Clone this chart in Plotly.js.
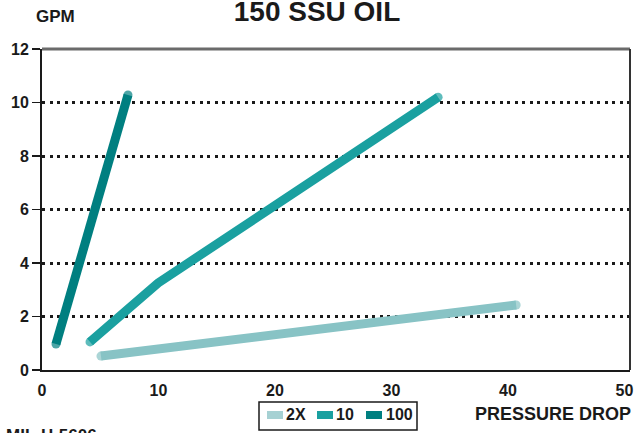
<!DOCTYPE html>
<html>
<head>
<meta charset="utf-8">
<script src="https://cdn.plot.ly/plotly-3.0.1.min.js"></script>
<style>html,body{margin:0;padding:0;background:#fff;}#chart{width:634px;height:433px;}</style>
</head>
<body>
<div id="chart"></div>
<script>
// Data
const seriesNames = ["2X", "10", "100"];
const x2X = [5.06, 40.7];
const y2X = [0.52, 2.43];
const x10 = [4.12, 9.96, 34.0];
const y10 = [1.05, 3.25, 10.2];
const x100 = [1.2, 7.38];
const y100 = [0.97, 10.28];
const colors = ["#88c3c5", "#1aa0a0", "#007f80"];
const legendColors = ["#a6d1d3", "#1aa0a0", "#007f80"];
const xTicks = [0, 10, 20, 30, 40, 50];
const yTicks = [0, 2, 4, 6, 8, 10, 12];

const FONT = "Liberation Sans, Arial, sans-serif";
const INK = "#1a1a1a";
const LW = 9;
const W = 634, H = 433, ML = 42, MR = 4, MT = 49, MB = 63;
const PW = W - ML - MR, PH = H - MT - MB;
const px = x => (x - ML) / PW;          // pixel -> paper x
const py = y => (H - MB - y) / PH;      // pixel -> paper y

function endSizes(n) { return Array.from({length: n}, (_, i) => (i === 0 || i === n - 1) ? LW : 0); }

const xs = [x2X, x10, x100];
const ys = [y2X, y10, y100];
const traces = [];
for (let i = 0; i < 3; i++) {
  traces.push({
    type: "scatter", mode: "lines+markers", name: seriesNames[i],
    x: xs[i], y: ys[i],
    line: {color: colors[i], width: LW},
    marker: {color: colors[i], size: endSizes(xs[i].length), line: {width: 0}},
    showlegend: false, hoverinfo: "skip"
  });
}

// Hand-built legend (boxed, small swatches)
const shapes = [
  {type: "line", xref: "paper", yref: "paper", x0: 0, x1: 1, y0: 1, y1: 1,
   line: {color: "#6b6b6b", width: 3}, layer: "above"},
  {type: "line", xref: "paper", yref: "paper", x0: 1, x1: 1, y0: 0, y1: 1,
   line: {color: "#333", width: 2}, layer: "above"},
  {type: "rect", xref: "paper", yref: "paper", x0: px(259), x1: px(417), y0: py(402), y1: py(430),
   line: {color: INK, width: 1.5}, fillcolor: "rgba(0,0,0,0)"}
];
const swatchX = [267, 317, 366];
const textX = [284, 334, 384];
const annotations = [
  {text: "<b>GPM</b>", xref: "paper", yref: "paper", x: px(34), y: py(16), xanchor: "left", yanchor: "middle",
   showarrow: false, font: {family: FONT, size: 17, color: INK}},
  {text: "<b>PRESSURE DROP</b>", xref: "paper", yref: "paper", x: px(633), y: py(413.5), xanchor: "right", yanchor: "middle",
   showarrow: false, font: {family: FONT, size: 18, color: INK}},
  {text: "<b>MIL-H-5606</b>", xref: "paper", yref: "paper", x: px(4), y: py(424), xanchor: "left", yanchor: "top",
   showarrow: false, font: {family: FONT, size: 17, color: INK}}
];
for (let i = 0; i < 3; i++) {
  shapes.push({type: "rect", xref: "paper", yref: "paper",
    x0: px(swatchX[i]), x1: px(swatchX[i] + 16), y0: py(411), y1: py(419),
    line: {width: 0}, fillcolor: legendColors[i]});
  annotations.push({text: "<b>" + seriesNames[i] + "</b>", xref: "paper", yref: "paper",
    x: px(textX[i]), y: py(415), xanchor: "left", yanchor: "middle", showarrow: false,
    font: {family: FONT, size: 16, color: INK}});
}

const layout = {
  width: W, height: H,
  margin: {l: ML, r: MR, t: MT, b: MB},
  showlegend: false,
  paper_bgcolor: "#fff", plot_bgcolor: "#fff",
  font: {family: FONT, size: 15, color: INK},
  title: {text: "<b>150 SSU OIL</b>", x: 0.5, xanchor: "center", y: 1 - 11.5 / H, yanchor: "middle",
          font: {family: FONT, size: 28, color: INK}},
  xaxis: {
    range: [0, PW / 11.65], tickvals: xTicks, ticktext: xTicks.map(v => "<b>" + v + "</b>"),
    showgrid: false, zeroline: false, showline: true, linecolor: INK, linewidth: 2,
    ticks: "", ticklabelstandoff: 5, ticklabeloverflow: "allow",
    tickfont: {family: FONT, size: 16, color: INK}
  },
  yaxis: {
    range: [0, 12], tickvals: yTicks, ticktext: yTicks.map(v => "<b>" + v + "</b>"),
    showgrid: true, gridcolor: INK, gridwidth: 3, griddash: "3px,4.5px",
    zeroline: false, showline: true, linecolor: INK, linewidth: 2,
    ticks: "outside", ticklen: 8, tickcolor: INK, tickwidth: 1.5,
    tickfont: {family: FONT, size: 16, color: INK}
  },
  shapes: shapes,
  annotations: annotations
};

Plotly.newPlot("chart", traces, layout, {staticPlot: true, displayModeBar: false});
</script>
</body>
</html>
